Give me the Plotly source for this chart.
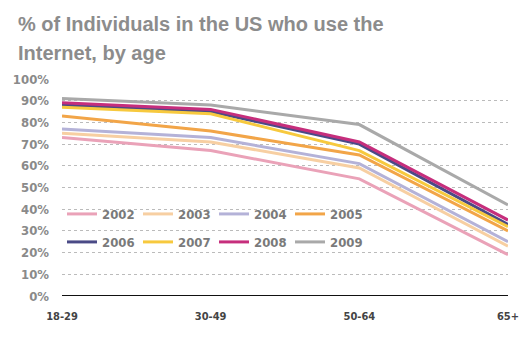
import plotly.graph_objects as go

age_groups = ["18-29", "30-49", "50-64", "65+"]
years = ["2002", "2003", "2004", "2005", "2006", "2007", "2008", "2009"]
share_2002 = [73, 67, 54, 19]
share_2003 = [75, 71, 59, 23]
share_2004 = [77, 73, 61, 25]
share_2005 = [83, 76, 65, 30]
share_2006 = [88, 85, 70, 33]
share_2007 = [87, 84, 67, 32]
share_2008 = [89, 86, 71, 35]
share_2009 = [91, 88, 79, 42]
y_ticks = [0, 10, 20, 30, 40, 50, 60, 70, 80, 90, 100]
title_lines = ["% of Individuals in the US who use the", "Internet, by age"]

series = [share_2002, share_2003, share_2004, share_2005,
          share_2006, share_2007, share_2008, share_2009]
colors = ["#eaa2b8", "#f7cfa2", "#b4b2d8", "#f2a548",
          "#4a4a86", "#f7c93e", "#c62e7c", "#a9a9a9"]

fig = go.Figure()
for i, (name, vals, col) in enumerate(zip(years, series, colors)):
    fig.add_trace(go.Scatter(
        x=age_groups, y=vals, name=name, mode="lines",
        line=dict(color=col, width=3),
        legend="legend" if i < 4 else "legend2",
    ))

# solid baseline at 0%
fig.add_hline(y=0, line=dict(color="#111111", width=2))

legend_style = dict(
    orientation="h", x=0.0, xanchor="left", yanchor="middle",
    bgcolor="rgba(0,0,0,0)",
    font=dict(family="DejaVu Sans Condensed", size=13, color="#7a7a7a", weight="bold"),
    itemwidth=30, entrywidth=31, entrywidthmode="pixels",
    traceorder="normal",
)

title_font = dict(family="Liberation Sans", size=20, color="#8c8c8c", weight="bold")

fig.update_layout(
    width=531, height=340,
    margin=dict(l=62, r=15, t=79, b=44),
    paper_bgcolor="white", plot_bgcolor="white",
    showlegend=True,
    legend=dict(legend_style, y=0.378),
    legend2=dict(legend_style, y=0.249),
    annotations=[
        dict(text=title_lines[0], xref="paper", yref="paper", x=-0.104, y=1.2535,
             xanchor="left", yanchor="middle", showarrow=False, font=title_font),
        dict(text=title_lines[1], xref="paper", yref="paper", x=-0.104, y=1.1198,
             xanchor="left", yanchor="middle", showarrow=False, font=title_font),
    ],
    xaxis=dict(
        range=[0, 3], showgrid=False, zeroline=False, showline=False,
        ticks="", tickfont=dict(family="DejaVu Sans Condensed", size=11, color="#444444", weight="bold"),
        ticklabelstandoff=12,
    ),
    yaxis=dict(
        range=[0, 100], tickvals=y_ticks, ticktext=[f"{v}%" for v in y_ticks],
        showgrid=True, gridcolor="#bbbbbb", griddash="dot", gridwidth=1,
        zeroline=False, showline=False, ticks="",
        tickfont=dict(family="DejaVu Sans Condensed", size=13, color="#8a8a8a", weight="bold"),
        ticklabelstandoff=12,
    ),
)

fig.write_html("out.html")
